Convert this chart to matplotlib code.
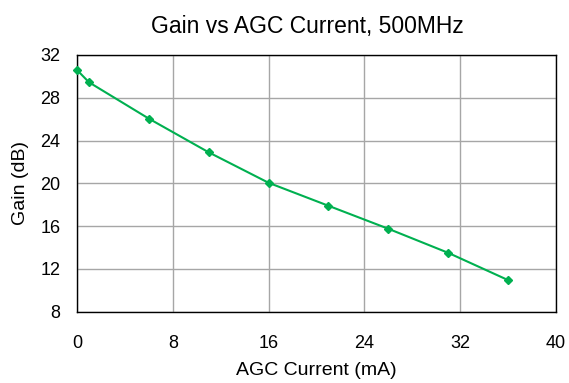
import matplotlib
matplotlib.use("Agg")
import matplotlib.pyplot as plt

# valores
agc_current = [0, 1, 6, 11, 16, 21, 26, 31, 36]
gain_db = [30.6, 29.45, 26.05, 22.9, 20.05, 17.9, 15.75, 13.5, 10.95]
x_ticks = [0, 8, 16, 24, 32, 40]
y_ticks = [8, 12, 16, 20, 24, 28, 32]

plt.rcParams['font.family'] = ['Liberation Sans', 'DejaVu Sans']

fig = plt.figure(figsize=(5.69, 3.83), dpi=100)
ax = fig.add_axes([0.1353, 0.1863, 0.8418, 0.6701])

ax.plot(agc_current, gain_db, color='#00b050', linewidth=1.5,
        marker='D', markersize=4, zorder=3, clip_on=False)

ax.set_xlim(0, 40)
ax.set_ylim(8, 32)
ax.set_xticks(x_ticks)
ax.set_yticks(y_ticks)
ax.tick_params(length=0, labelsize=13)
ax.tick_params(axis='x', pad=17)
ax.tick_params(axis='y', pad=12)
ax.grid(True, color='#a6a6a6', linewidth=1.0)
ax.set_axisbelow(True)
for sp in ax.spines.values():
    sp.set_color('#000000')
    sp.set_linewidth(1.0)

ax.set_xlabel('AGC Current (mA)', fontsize=14, labelpad=7)
ax.set_ylabel('Gain (dB)', fontsize=14, labelpad=8)
ax.set_title('Gain vs AGC Current, 500MHz', fontsize=16.5, pad=16, x=0.481)

fig.savefig('out.png', dpi=100)
